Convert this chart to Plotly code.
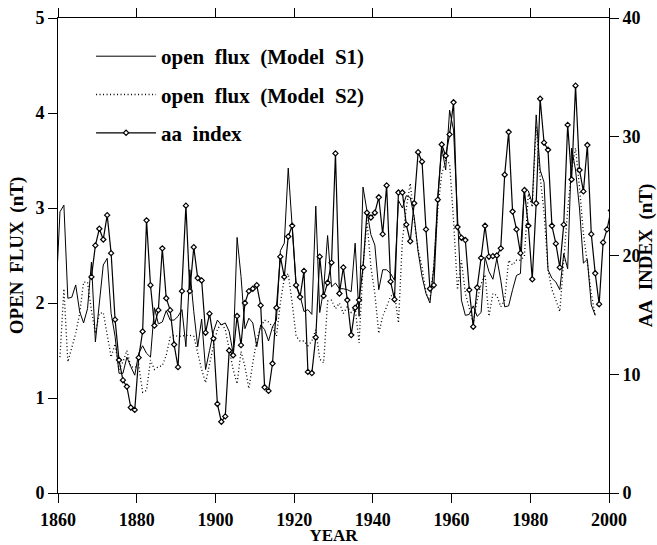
import numpy as np
import plotly.graph_objects as go

# ---- data ----
s1_start = 1859
s1_flux = [2.10,
           2.96, 3.03, 2.05, 2.06, 2.19, 1.91, 1.79, 1.94, 2.43, 1.59,
           2.00, 2.40, 2.47, 1.89, 1.65, 1.26, 1.26, 1.43, 1.33, 1.24,
           1.47, 1.55, 1.47, 1.43, 1.95, 1.78, 1.80, 1.92, 1.82, 1.82,
           1.86, 1.93, 1.54, 2.35, 1.91, 1.54, 1.83, 1.30, 1.50, 1.70,
           1.82, 1.77, 1.79, 1.70, 1.47, 2.69, 2.28, 1.73, 1.84, 1.79,
           1.54, 1.77, 1.72, 1.60, 1.75, 1.82, 2.55, 2.63, 3.42, 2.84,
           2.19, 2.08, 1.91, 1.93, 1.88, 3.02, 1.90, 2.14, 2.71, 2.17,
           2.21, 2.15, 2.15, 2.14, 2.12, 2.63, 1.86, 3.22, 2.95, 2.72,
           2.61, 2.14, 2.35, 2.35, 2.31, 2.24, 3.08, 3.00, 3.13, 3.11,
           2.91, 2.54, 2.28, 2.10, 2.00, 2.38, 3.13, 3.64, 3.40, 4.03,
           3.82, 2.87, 2.03, 1.87, 1.88, 1.97, 1.86, 1.90, 2.48, 2.33,
           2.25, 2.47, 2.24, 1.96, 1.97, 2.14, 2.29, 2.31, 3.22, 3.18,
           3.05, 3.98, 3.40, 3.27, 2.35, 2.26, 2.22, 2.14, 2.52, 2.36,
           3.63, 3.40, 3.00, 2.42, 2.46, 1.98, 1.87]

s2_start = 1860
s2_flux = [1.43, 2.15, 1.38, 1.54, 1.68, 1.89, 2.22, 2.22, 1.92, 1.68,
           1.89, 1.90, 1.66, 1.43, 1.57, 1.30, 1.38, 1.50, 1.33, 1.32,
           1.35, 1.06, 1.08, 1.40, 1.30, 1.33, 1.34, 1.45, 1.64, 1.66,
           1.65, 1.65, 1.66, 1.66, 1.65, 1.47, 1.30, 1.16, 1.37, 1.55,
           1.72, 1.79, 1.72, 1.51, 1.30, 1.15, 1.49, 1.33, 1.10, 1.37,
           1.61, 1.75, 1.82, 1.80, 1.75, 1.65, 2.00, 2.26, 2.31, 2.00,
           1.65, 1.60, 1.60, 1.55, 1.60, 1.72, 1.41, 1.37, 2.02, 2.03,
           1.94, 2.00, 1.89, 1.96, 1.90, 1.95, 1.58, 2.38, 2.87, 2.38,
           2.10, 1.68, 1.86, 1.96, 2.07, 2.10, 1.79, 2.66, 3.00, 3.26,
           2.87, 2.56, 2.38, 2.10, 2.03, 2.40, 2.98, 3.36, 3.50, 3.47,
           2.87, 2.14, 2.45, 2.10, 1.93, 1.79, 2.03, 2.20, 2.30, 1.86,
           2.10, 2.08, 1.96, 2.03, 2.45, 2.40, 2.45, 2.45, 2.49, 3.15,
           3.01, 3.86, 3.33, 2.95, 2.35, 2.14, 2.03, 1.91, 2.45, 2.98,
           3.40, 3.63, 3.22, 2.73, 2.42, 2.10, 1.87]

aa_start = 1868
aa_index = [18.2, 20.85, 22.25, 21.35, 23.4, 20.2, 14.6, 11.2, 9.5, 8.96,
            7.2, 7.0, 11.4, 13.6, 22.96, 17.5, 14.1, 15.4, 20.6, 16.4,
            15.4, 12.5, 10.6, 17.0, 24.2, 17.0, 20.7, 18.1, 17.9, 13.5,
            15.1, 13.0, 7.5, 6.0, 6.45, 12.0, 11.6, 14.9, 12.45, 16.0,
            17.0, 17.2, 17.5, 15.8, 8.9, 8.6, 10.9, 15.6, 19.9, 18.2,
            21.6, 22.5, 17.5, 16.5, 18.7, 10.2, 10.1, 13.1, 19.9, 16.6,
            17.7, 19.4, 28.6, 16.8, 19.0, 16.25, 13.3, 15.6, 16.25, 19.0,
            23.6, 23.2, 23.6, 24.9, 21.8, 25.9, 17.8, 16.3, 25.3, 25.3,
            22.6, 21.2, 24.4, 28.7, 27.9, 22.2, 17.2, 17.5, 24.7, 29.35,
            28.4, 30.2, 32.9, 22.4, 21.5, 21.3, 17.1, 14.0, 17.3, 19.8,
            22.5, 19.9, 19.95, 20.0, 20.6, 26.8, 30.4, 23.7, 22.2, 20.2,
            25.5, 22.5, 18.0, 24.4, 33.2, 29.5, 28.9, 22.5, 21.0, 19.0,
            22.6, 31.0, 26.4, 34.3, 27.2, 25.4, 29.3, 21.8, 18.5, 15.9,
            21.1, 22.2, 23.8]

x_ticks = [1860, 1880, 1900, 1920, 1940, 1960, 1980, 2000]

# annual means plotted at mid-year
s1_x = np.arange(len(s1_flux)) + s1_start + 0.5
s2_x = np.arange(len(s2_flux)) + s2_start + 0.5
aa_x = np.arange(len(aa_index)) + aa_start + 0.5

FONT = "Liberation Serif"
SP = "\u00a0\u00a0"
TSP = "\u00a0\u2009"

fig = go.Figure()
fig.add_trace(go.Scatter(
    x=s1_x, y=s1_flux, mode="lines", name=f"open{SP}flux{SP}(Model{SP}S1)",
    line=dict(color="black", width=1), legendgroup="a"))
fig.add_trace(go.Scatter(
    x=s2_x, y=s2_flux, mode="lines", name=f"open{SP}flux{SP}(Model{SP}S2)",
    line=dict(color="black", width=1.3, dash="1px,2.5px"), legendgroup="b"))
fig.add_trace(go.Scatter(
    x=aa_x, y=aa_index, mode="lines+markers", name=f"aa{SP}index",
    yaxis="y2", line=dict(color="black", width=1.2),
    marker=dict(symbol="diamond", size=4, color="white",
                line=dict(color="black", width=1.2)),
    legendgroup="c"))

tickfont = dict(family=FONT, size=18, color="black", weight="bold")
xtitlefont = dict(family=FONT, size=17, color="black", weight="bold")
ytitlefont = dict(family=FONT, size=19, color="black", weight="bold")

fig.update_layout(
    width=657, height=545,
    margin=dict(l=58, r=48, t=18, b=52, autoexpand=False),
    paper_bgcolor="white", plot_bgcolor="white",
    showlegend=True,
    legend=dict(x=0.06, y=0.962, xanchor="left", yanchor="top",
                bgcolor="rgba(0,0,0,0)", tracegroupgap=8, itemwidth=60,
                font=dict(family=FONT, size=21, color="black", weight="bold")),
    xaxis=dict(range=[1860, 2000], tickvals=x_ticks, showgrid=False,
               zeroline=False, showline=True, linecolor="black", linewidth=1,
               mirror="ticks", ticks="outside", ticklen=9, tickcolor="black",
               tickfont=tickfont, ticklabelstandoff=1, automargin=False,
               title=dict(text="YEAR", font=xtitlefont, standoff=2)),
    yaxis=dict(range=[0, 5], dtick=1, showgrid=False, zeroline=False,
               showline=True, linecolor="black", linewidth=1, mirror=True,
               ticks="outside", ticklen=9, tickcolor="black",
               tickfont=tickfont, automargin=False,
               title=dict(text=f"OPEN{TSP}FLUX{TSP}(nT)", font=ytitlefont,
                          standoff=6)),
    yaxis2=dict(range=[0, 40], dtick=10, overlaying="y", side="right",
                showgrid=False, zeroline=False, showline=True,
                linecolor="black", linewidth=1, ticks="outside", ticklen=9,
                tickcolor="black", tickfont=tickfont, automargin=False,
                title=dict(text=f"AA{SP}INDEX{SP}(nT)", font=ytitlefont,
                           standoff=6)),
)

fig.write_html("out.html")
